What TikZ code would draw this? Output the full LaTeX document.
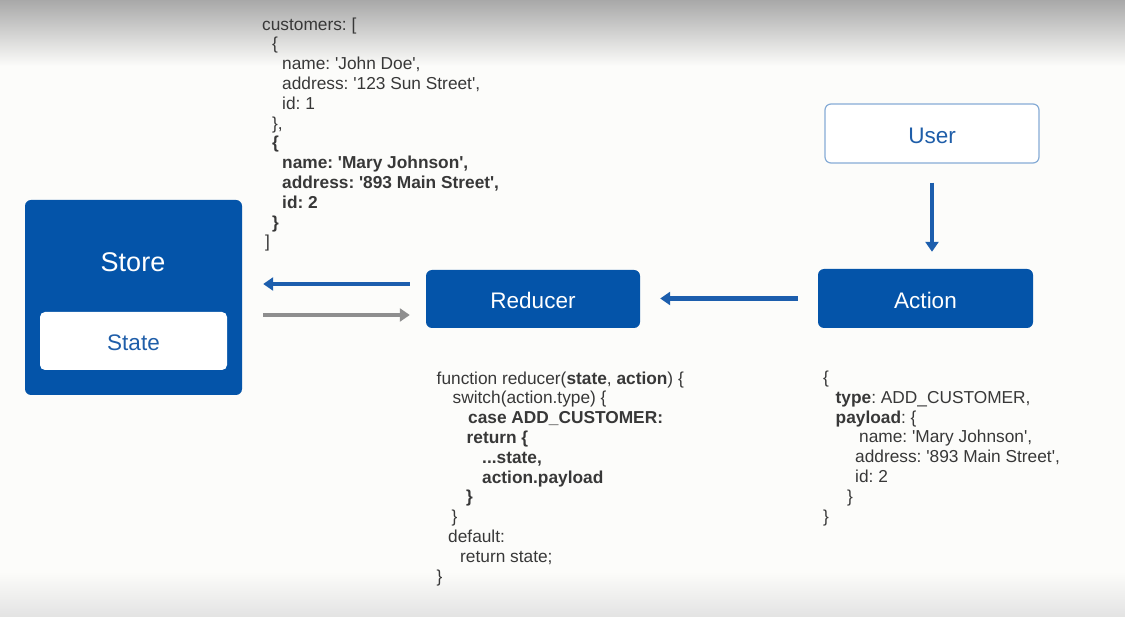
\documentclass[tikz,border=0pt]{standalone}
\usepackage{fontspec}
\setmainfont{Liberation Sans}[Ligatures=TeXOff]
\usetikzlibrary{arrows.meta}
\frenchspacing

\definecolor{boxblue}{HTML}{0454A9}
\definecolor{arrowblue}{HTML}{1C5EAD}
\definecolor{labelblue}{HTML}{1F5EA9}
\definecolor{userline}{HTML}{86ACD6}
\definecolor{codegray}{HTML}{383838}
\definecolor{backgray}{HTML}{8E8E8E}
\definecolor{paper}{HTML}{FCFCFA}

\newcommand{\codefont}{\fontsize{17.3}{19.8}\selectfont}
\newcommand{\labelfont}{\fontsize{22.5}{26}\selectfont}

\tikzset{
    bluebox/.style={fill=boxblue, text=white, rounded corners=6pt,
        minimum width=214pt, minimum height=58pt, inner sep=0pt, font=\labelfont,
        text height=20pt, text depth=0pt},
    whitebox/.style={bluebox, fill=white, text=labelblue},
    code/.style={anchor=base west, inner sep=0pt, align=left, text=codegray, font=\codefont},
    flow/.style={line width=4.5pt, draw=arrowblue, -{Triangle[length=10pt, width=13pt]}},
    back/.style={flow, draw=backgray},
}

\begin{document}
\begin{tikzpicture}[x=1pt, y=-1pt]
    % background
    \useasboundingbox (0,0) rectangle (1125,617);
    \fill[paper] (0,0) rectangle (1125,617);
    \shade[top color=black!34, bottom color=paper] (0,0) rectangle (1125,66);
    \shade[top color=paper, bottom color=black!11] (0,572) rectangle (1125,617);

    % store with its state
    \node[bluebox, minimum width=217pt, minimum height=195pt] (store) at (133.5,297.5) {};
    \node[text=white, font=\fontsize{27}{30}\selectfont] (storelbl) at (133,262) {Store};
    \node[whitebox, minimum width=187pt, rounded corners=5pt] (state) at (133.5,341) {State};

    % reducer, action, user
    \node[bluebox] (reducer) at (533,299) {Reducer};
    \node[bluebox, minimum width=215pt, minimum height=59pt] (action) at (925.5,298.5) {Action};
    \node[whitebox, draw=userline, line width=1.2pt, minimum height=59pt] (user) at (932,133.5) {User};

    % connectors
    \draw[flow, shorten <=19pt, shorten >=17pt] (user.south) -- (user.south |- action.north);
    \draw[flow, shorten <=20pt, shorten >=20pt] (action.west) -- (action.west -| reducer.east);
    \coordinate (rtop) at ([yshift=15pt]reducer.west);
    \coordinate (rbot) at ([yshift=-16pt]reducer.west);
    \draw[flow, shorten <=16pt, shorten >=21pt] (rtop) -- (rtop -| store.east);
    \draw[back, shorten <=21pt, shorten >=16pt] (rbot -| store.east) -- (rbot);

    % state data (placed by the baseline of its last line)
    \node[code] (customers) at (262,248) {customers: [\\
        \hspace*{10pt}\{\\
        \hspace*{20pt}name: 'John Doe',\\
        \hspace*{20pt}address: '123 Sun Street',\\
        \hspace*{20pt}id: 1\\
        \hspace*{10pt}\},\\
        \hspace*{10pt}\textbf{\{}\\
        \hspace*{20pt}\textbf{name: 'Mary Johnson',}\\
        \hspace*{20pt}\textbf{address: '893 Main Street',}\\
        \hspace*{20pt}\textbf{id: 2}\\
        \hspace*{10pt}\textbf{\}}\\
        \hspace*{3pt}]};

    % reducer code
    \node[code] (reducercode) at (436.5,582) {function reducer(\textbf{state}, \textbf{action}) \{\\
        \hspace*{16pt}switch(action.type) \{\\
        \hspace*{31.5pt}\textbf{case ADD\_CUSTOMER:}\\
        \hspace*{30pt}\textbf{return \{}\\
        \hspace*{45.5pt}\textbf{...state,}\\
        \hspace*{45.5pt}\textbf{action.payload}\\
        \hspace*{29.5pt}\textbf{\}}\\
        \hspace*{15pt}\}\\
        \hspace*{11.5pt}default:\\
        \hspace*{23.5pt}return state;\\
        \}};

    % action object
    \node[code] (actioncode) at (823,522) {\{\\
        \hspace*{12.5pt}\textbf{type}: ADD\_CUSTOMER,\\
        \hspace*{12.5pt}\textbf{payload}: \{\\
        \hspace*{36pt}name: 'Mary Johnson',\\
        \hspace*{32pt}address: '893 Main Street',\\
        \hspace*{32pt}id: 2\\
        \hspace*{24pt}\}\\
        \}};
\end{tikzpicture}
\end{document}
